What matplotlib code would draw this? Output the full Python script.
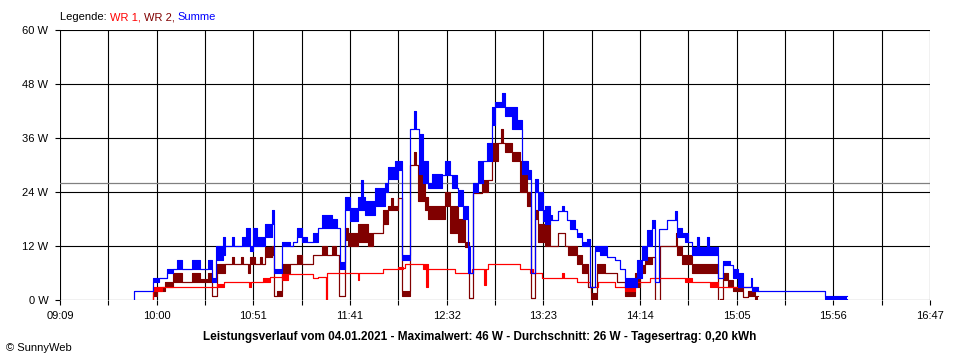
import matplotlib.pyplot as plt

plt.rcParams['font.family'] = ['Liberation Sans', 'DejaVu Sans']

# times in minutes after midnight, power in W
# lo/hi give the range a series flickers over inside one step (lo == hi: steady)
summe_t = [587.9, 587.9, 597.9, 601.1, 605.3, 608.5, 610.6, 613.2, 618.5, 622.7, 626.9, 629.0, 631.1,
           634.8, 635.8, 639.5, 640.6, 644.8, 646.9, 649.0, 650.6, 652.7, 656.9, 660.6, 661.6, 665.8,
           670.0, 671.6, 673.7, 676.4, 679.0, 682.2, 684.8, 686.9, 692.2, 694.8, 696.4, 699.0, 701.6,
           705.8, 707.6, 708.4, 709.5, 714.8, 720.1, 721.6, 725.3, 726.9, 729.0, 733.2, 735.3, 736.4,
           737.9, 740.1, 742.7, 744.8, 750.1, 751.6, 754.3, 755.3, 757.9, 758.5, 761.1, 763.7, 764.8,
           766.4, 769.0, 771.6, 773.7, 776.4, 777.9, 781.6, 783.2, 786.9, 789.5, 792.2, 795.3, 796.9,
           799.0, 800.6, 803.2, 804.3, 806.9, 807.9, 811.1, 813.2, 814.3, 815.8, 817.4, 820.1, 821.1,
           823.7, 826.4, 827.9, 830.6, 833.2, 836.9, 841.1, 843.7, 846.4, 852.7, 855.3, 857.9, 860.6,
           862.2, 864.3, 868.5, 872.7, 873.7, 876.4, 877.9, 879.5, 881.6, 884.3, 885.3, 889.5, 890.6,
           895.3, 897.9, 901.6, 903.2, 905.8, 908.5, 912.7, 913.2, 916.4, 951.6, 963.2]
summe_lo = [0, 2, 4, 5, 6, 7, 7, 7, 7, 7, 7, 4, 9,
            10, 12, 12, 12, 12, 12, 11, 12, 12, 14, 17, 6, 12,
            12, 13, 14, 13, 13, 13, 16, 16, 16, 16, 7, 20, 17.5,
            20, 20, 20, 19, 21, 24, 27, 27, 29, 9, 38, 38, 38,
            28, 26, 25, 25, 27.8, 27.8, 27.8, 25, 25, 21, 18, 6, 6,
            24, 26, 31, 31, 39, 43, 43, 41, 38, 38, 28, 27, 6,
            24, 20, 17.5, 17, 17.8, 17.8, 19.8, 19.8, 19.8, 17.8, 15.8, 15.8, 14,
            12, 12, 3, 11, 10, 9.6, 9, 7, 3, 5, 9, 12, 16,
            4, 15.8, 17.8, 17.8, 14, 14, 13, 13, 10, 10, 10, 10, 10,
            4.8, 7.7, 7.7, 5, 3, 3, 3, 2, 2.1, 0.3, 0.3]
summe_hi = [0, 2, 5, 5, 7, 7, 9, 7, 9, 7, 9, 5, 12,
            14, 12, 14, 12, 14, 16, 12, 16, 14, 17, 20, 7, 13,
            12, 13, 16, 14, 13, 15, 16, 19, 18, 16, 8.5, 23, 20.5,
            23, 26.7, 23, 22, 25, 26, 29.6, 31, 31, 10, 38, 42, 38,
            37, 31, 26, 28, 27.8, 31, 27.8, 27.8, 25, 24.4, 21, 12, 6,
            26, 31, 31, 35, 43, 44, 46, 43, 43, 40, 31, 29, 6,
            27, 24, 20, 21, 19, 17.8, 19.8, 21, 19.8, 17.8, 17.8, 15.8, 15,
            13, 13.5, 3, 12, 12, 9.6, 9, 7, 5, 9, 12, 15.6, 17.8,
            4, 15.8, 17.8, 19.8, 16, 15, 15, 13, 11.8, 14, 11.8, 14, 11.8,
            4.8, 8.7, 7.7, 7, 6, 3, 5, 3, 2.1, 1, 1]

wr1_t = [597.9, 597.9, 602.7, 631.6, 635.3, 648.5, 649.5, 655.8, 659.5, 665.8, 669.0, 682.2, 684.8,
         689.0, 689.5, 705.8, 706.6, 711.1, 719.0, 726.9, 729.5, 730.6, 740.1, 741.6, 742.7, 756.9,
         765.8, 772.2, 773.2, 774.3, 791.1, 796.4, 797.9, 802.7, 813.2, 814.3, 821.1, 827.9, 832.2,
         841.1, 846.4, 851.6, 859.5, 877.9, 881.6, 891.1, 895.3, 913.2, 916.4]
wr1_lo = [0, 2, 3, 3, 3.9, 3, 3.9, 3.9, 5.2, 4.4, 5.8, 5.0, 5.2,
          0, 5.9, 4.5, 5.9, 5.9, 7, 7, 7.2, 8, 7, 3, 7, 6,
          7, 3.3, 7, 8, 7, 6, 6, 5, 5, 5, 3.9, 3, 3.9,
          3, 2, 3.9, 5, 4, 4, 3, 3, 2, 2]
wr1_hi = [0, 3, 3, 3.6, 3.9, 3.9, 3.9, 5, 5.2, 5.8, 5.8, 5.0, 5.2,
          0, 5.9, 5.9, 5.9, 5.9, 7, 7.4, 7.2, 8, 8, 8, 7, 6,
          7, 7, 7, 8, 7, 7, 6, 5, 5.9, 5, 3.9, 3, 3.9,
          3, 3, 3.9, 5, 5, 4, 4, 3, 3, 3]

wr2_t = [597.9, 597.9, 600.1, 604.3, 608.5, 613.2, 618.5, 622.7, 626.9, 629.0, 631.6, 635.8, 639.5,
         640.6, 644.3, 645.3, 647.9, 649.0, 651.6, 654.3, 655.3, 656.9, 660.6, 661.6, 663.2, 665.8,
         670.0, 673.7, 676.4, 682.2, 686.9, 689.5, 692.2, 694.3, 695.8, 699.0, 700.6, 705.8, 711.1,
         713.7, 719.0, 721.6, 723.2, 724.3, 726.9, 729.0, 733.2, 735.3, 736.4, 737.4, 741.1, 742.7,
         751.6, 754.3, 758.5, 762.2, 764.3, 766.4, 771.1, 774.3, 776.4, 779.5, 781.1, 782.2, 783.2,
         786.9, 791.1, 794.8, 796.9, 799.0, 800.6, 804.3, 806.9, 811.1, 814.8, 816.4, 821.1, 823.7,
         826.9, 828.5, 831.6, 835.8, 842.2, 846.4, 851.6, 854.3, 856.9, 860.6, 862.2, 864.8, 873.2,
         873.7, 876.4, 881.6, 895.3, 896.4, 897.9, 900.6, 903.2, 908.5, 911.1, 914.8, 916.4]
wr2_lo = [0, 1, 2, 3, 4, 4, 4, 4, 4, 1, 6, 8, 8,
          8, 8, 8, 6, 8, 8, 8, 8, 9.6, 10, 1, 1, 6,
          8, 8, 8, 10, 10, 10, 10, 10, 1, 13.3, 12, 13, 12,
          15, 17, 20, 20, 20, 22.6, 1, 30, 30, 30, 22, 20, 18,
          21, 15, 13, 11.8, 0.4, 23.7, 24, 26.7, 31, 35, 35, 35, 33,
          31, 24, 21, 0.5, 18, 13, 12, 12, 15, 12, 10, 8, 6,
          3, 0, 6, 6, 4, 1, 3, 6, 8, 9.6, 0.1, 12, 12,
          10, 8, 6, 0, 0.3, 4.4, 3, 2, 0.7, 1, 0, 0]
wr2_hi = [0, 2, 3, 4, 5.9, 4, 6, 4.7, 6, 1, 8, 8, 9.6,
          8, 9.6, 8, 8, 9.6, 8, 9.6, 8, 11.8, 12, 1, 2, 8,
          8, 10, 8, 10, 12, 10, 12, 10, 1, 16, 15, 16.8, 15,
          15, 20, 21, 22.6, 21, 22.6, 2, 30, 33, 30, 30, 23, 21,
          24, 21, 18, 13, 0.4, 23.7, 26.7, 26.7, 35, 35, 38, 35, 35,
          33, 31, 24, 0.5, 20, 17, 18, 12, 15, 12, 12, 10, 8,
          3, 1.5, 8, 6, 4, 3, 6, 7.8, 9.6, 9.6, 0.1, 12, 15,
          12, 10, 8, 0, 0.3, 6, 4.4, 3, 0.7, 2, 1, 1]

average = 26  # Durchschnitt, grey line

x_labels = ['09:09', '10:00', '10:51', '11:41', '12:32', '13:23', '14:14', '15:05', '15:56', '16:47']
y_labels = ['0 W', '12 W', '24 W', '36 W', '48 W', '60 W']

t_start, t_end = 549, 1007  # 09:09 .. 16:47
step = (t_end - t_start) / 18

fig = plt.figure(figsize=(9.6, 3.6), dpi=100)
ax = fig.add_axes([60 / 960, 60 / 360, 870 / 960, 270 / 360])

series = [
    (wr2_t, wr2_lo, wr2_hi, '#800000'),
    (wr1_t, wr1_lo, wr1_hi, '#ff0000'),
    (summe_t, summe_lo, summe_hi, '#0000ff'),
]
for i, (t, lo, hi, col) in enumerate(series):
    ax.fill_between(t, lo, hi, step='post', color=col, lw=0, zorder=3 + i)
    ax.step(t, lo, where='post', color=col, lw=0.8, zorder=3 + i)
    ax.step(t, hi, where='post', color=col, lw=0.8, zorder=3 + i)

ax.axhline(average, color='#808080', lw=0.9, zorder=2)

ax.set_xlim(t_start, t_end)
ax.set_ylim(0, 60)
ax.set_xticks([t_start + 2 * k * step for k in range(10)], x_labels)
ax.set_xticks([t_start + (2 * k + 1) * step for k in range(9)], minor=True)
ax.set_yticks(range(0, 61, 12), y_labels)
ax.grid(True, which='both', color='black', lw=0.8, zorder=1)
ax.set_axisbelow(True)
ax.tick_params(which='both', length=3.8, width=0.8, color='black', labelsize=8)
ax.tick_params(axis='x', pad=4)
ax.tick_params(axis='y', pad=4.5)
for s in ax.spines.values():
    s.set_visible(False)

# legend line at the top, one colour per word
y_leg = 1 - 17 / 360
pieces = [('Legende: ', 'black'), ('WR 1, ', '#ff0000'), ('WR 2, ', '#800000'), ('Summe', '#0000ff')]
renderer = fig.canvas.get_renderer()
x = 60 / 960
for txt, col in pieces:
    t = fig.text(x, y_leg, txt, color=col, fontsize=8, va='center', ha='left')
    x += t.get_window_extent(renderer).width / 960

fig.text(0.5, 1 - 337 / 360,
         'Leistungsverlauf vom 04.01.2021 - Maximalwert: 46 W - Durchschnitt: 26 W - Tagesertrag: 0,20 kWh',
         ha='center', va='center', fontsize=8.5, fontweight='bold')
fig.text(6 / 960, 1 - 348 / 360, '© SunnyWeb', ha='left', va='center', fontsize=8)

fig.savefig('out.png', dpi=100)
